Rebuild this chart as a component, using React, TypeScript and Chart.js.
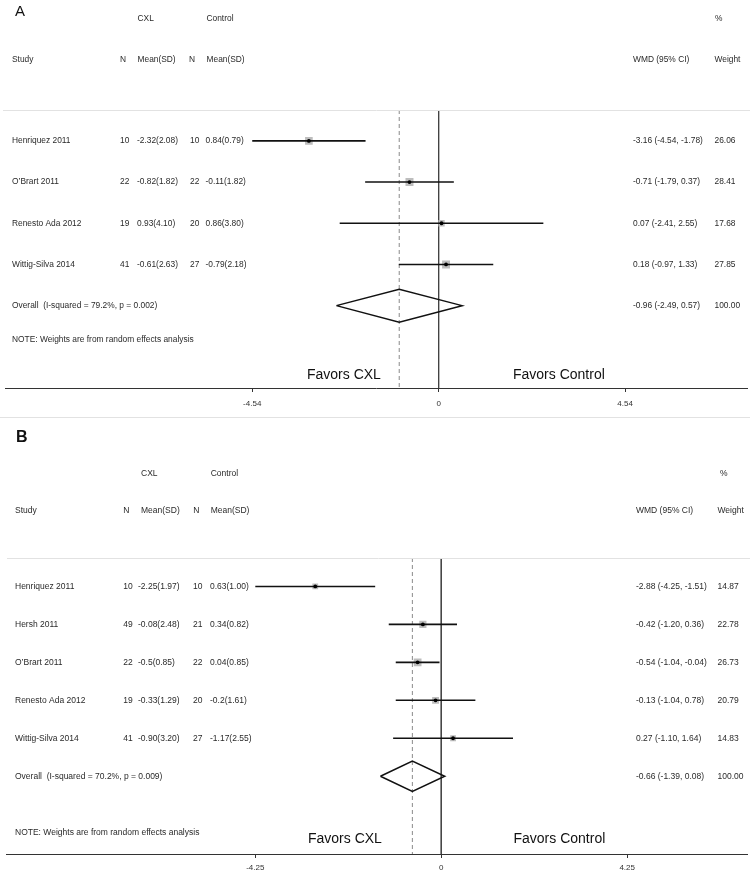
import React, { useEffect, useRef } from "react";
import { Chart, registerables } from "chart.js";

Chart.register(...registerables);

// ---------- Panel A data ----------
const studiesA = ["Henriquez 2011", "O\u2019Brart 2011", "Renesto Ada 2012", "Wittig-Silva 2014"];
const nCxlA = [10, 22, 19, 41];
const meanCxlA = ["-2.32(2.08)", "-0.82(1.82)", "0.93(4.10)", "-0.61(2.63)"];
const nCtlA = [10, 22, 20, 27];
const meanCtlA = ["0.84(0.79)", "-0.11(1.82)", "0.86(3.80)", "-0.79(2.18)"];
const wmdA = [-3.16, -0.71, 0.07, 0.18];
const loA = [-4.54, -1.79, -2.41, -0.97];
const hiA = [-1.78, 0.37, 2.55, 1.33];
const weightA = [26.06, 28.41, 17.68, 27.85];
const overallA = [-0.96, -2.49, 0.57]; // estimate, lower, upper
const overallLabelA = "Overall  (I-squared = 79.2%, p = 0.002)";
const ticksA = [-4.54, 0, 4.54];
const axisRangeA = [-10.545, 7.518];

// ---------- Panel B data ----------
const studiesB = ["Henriquez 2011", "Hersh 2011", "O\u2019Brart 2011", "Renesto Ada 2012", "Wittig-Silva 2014"];
const nCxlB = [10, 49, 22, 19, 41];
const meanCxlB = ["-2.25(1.97)", "-0.08(2.48)", "-0.5(0.85)", "-0.33(1.29)", "-0.90(3.20)"];
const nCtlB = [10, 21, 22, 20, 27];
const meanCtlB = ["0.63(1.00)", "0.34(0.82)", "0.04(0.85)", "-0.2(1.61)", "-1.17(2.55)"];
const wmdB = [-2.88, -0.42, -0.54, -0.13, 0.27];
const loB = [-4.25, -1.2, -1.04, -1.04, -1.1];
const hiB = [-1.51, 0.36, -0.04, 0.78, 1.64];
const weightB = [14.87, 22.78, 26.73, 20.79, 14.83];
const overallB = [-0.66, -1.39, 0.08];
const overallLabelB = "Overall  (I-squared = 70.2%, p = 0.009)";
const ticksB = [-4.25, 0, 4.25];
const axisRangeB = [-9.948, 7.0];

const noteText = "NOTE: Weights are from random effects analysis";
const FONT = '"Liberation Sans", Arial, Helvetica, sans-serif';

type Layout = {
  height: number;
  padTop: number;
  padLeft: number;
  padRight: number;
  axisHeight: number;
  tickPad: number;
  rowRange: [number, number];
  fontSize: number;
  letter: string;
  letterFont: string;
  letterX: number;
  letterY: number;
  groupY: number;
  headY: number;
  cols: { study: number; nCxl: number; meanCxl: number; nCtl: number; meanCtl: number; wmd: number; weight: number; hCxl: number; hCtl: number; hN1: number; hN2: number; pct: number };
  noteY: number;
  favorsY: number;
  favorsCxlX: number;
  favorsCtlX: number;
  sepLines: { y: number; x0: number; x1: number }[];
};

type Panel = {
  studies: string[];
  nCxl: number[];
  meanCxl: string[];
  nCtl: number[];
  meanCtl: string[];
  wmd: number[];
  lo: number[];
  hi: number[];
  weight: number[];
  overall: number[];
  overallLabel: string;
  ticks: number[];
  axisRange: number[];
  layout: Layout;
};

const panelA: Panel = {
  studies: studiesA, nCxl: nCxlA, meanCxl: meanCxlA, nCtl: nCtlA, meanCtl: meanCtlA,
  wmd: wmdA, lo: loA, hi: hiA, weight: weightA, overall: overallA, overallLabel: overallLabelA,
  ticks: ticksA, axisRange: axisRangeA,
  layout: {
    height: 420, padTop: 110, padLeft: 4, padRight: 3, axisHeight: 32, tickPad: 7,
    rowRange: [0.25, 7.0], fontSize: 8.4,
    letter: "A", letterFont: `15px ${FONT}`, letterX: 15, letterY: 12,
    groupY: 18.5, headY: 59.5,
    cols: { study: 12, nCxl: 120, meanCxl: 137, nCtl: 190, meanCtl: 205.5, wmd: 633, weight: 714.5, hCxl: 137.5, hCtl: 206.5, hN1: 120, hN2: 189, pct: 715 },
    noteY: 340, favorsY: 375, favorsCxlX: 307, favorsCtlX: 513,
    sepLines: [{ y: 110.5, x0: 3, x1: 750 }, { y: 417.5, x0: 0, x1: 750 }],
  },
};

const panelB: Panel = {
  studies: studiesB, nCxl: nCxlB, meanCxl: meanCxlB, nCtl: nCtlB, meanCtl: meanCtlB,
  wmd: wmdB, lo: loB, hi: hiB, weight: weightB, overall: overallB, overallLabel: overallLabelB,
  ticks: ticksB, axisRange: axisRangeB,
  layout: {
    height: 454, padTop: 138, padLeft: 6, padRight: 3, axisHeight: 20, tickPad: 5,
    rowRange: [0.25, 8.05], fontSize: 8.5,
    letter: "B", letterFont: `bold 16px ${FONT}`, letterX: 16, letterY: 18,
    groupY: 53.5, headY: 91,
    cols: { study: 15, nCxl: 123.3, meanCxl: 138, nCtl: 193, meanCtl: 210, wmd: 636, weight: 717.5, hCxl: 141, hCtl: 210.7, hN1: 123.3, hN2: 193.3, pct: 720 },
    noteY: 413, favorsY: 419, favorsCxlX: 308, favorsCtlX: 513.5,
    sepLines: [{ y: 138.5, x0: 7, x1: 750 }],
  },
};

function makeConfig(p: Panel): any {
  const L = p.layout;
  const rows = p.studies.map((_, i) => i + 1);
  const oRow = p.studies.length + 1;
  const [est, olo, ohi] = p.overall;
  const datasets: any[] = [];

  // black centre dots (on top)
  datasets.push({
    type: "scatter",
    data: p.wmd.map((v, i) => ({ x: v, y: rows[i] })),
    pointStyle: "circle",
    pointRadius: 1.9,
    backgroundColor: "#000",
    borderWidth: 0,
  });
  // confidence interval lines
  p.studies.forEach((_, i) => {
    datasets.push({
      type: "line",
      data: [{ x: p.lo[i], y: rows[i] }, { x: p.hi[i], y: rows[i] }],
      borderColor: "#111",
      borderWidth: 1.6,
      pointRadius: 0,
    });
  });
  // weight boxes
  datasets.push({
    type: "scatter",
    data: p.wmd.map((v, i) => ({ x: v, y: rows[i] })),
    pointStyle: "rect",
    pointRadius: p.weight.map((w) => (1.5 * Math.sqrt(w)) / Math.SQRT2),
    backgroundColor: "#bdbdbd",
    borderWidth: 0,
  });
  // overall diamond
  datasets.push({
    type: "line",
    data: [
      { x: olo, y: oRow },
      { x: est, y: oRow - 0.4 },
      { x: ohi, y: oRow },
      { x: est, y: oRow + 0.4 },
      { x: olo, y: oRow },
    ],
    borderColor: "#111",
    borderWidth: 1.5,
    pointRadius: 0,
    fill: false,
    tension: 0,
  });
  // dashed overall line
  datasets.push({
    type: "line",
    data: [{ x: est, y: L.rowRange[0] }, { x: est, y: L.rowRange[1] }],
    borderColor: "#8a8a8a",
    borderWidth: 1,
    borderDash: [4, 3],
    pointRadius: 0,
  });
  // null line
  datasets.push({
    type: "line",
    data: [{ x: 0, y: L.rowRange[0] }, { x: 0, y: L.rowRange[1] }],
    borderColor: "#444",
    borderWidth: 1,
    pointRadius: 0,
  });

  const textPlugin = {
    id: "forestText",
    afterDraw(chart: any) {
      const ctx = chart.ctx as CanvasRenderingContext2D;
      const ys = chart.scales.y;
      const C = L.cols;
      const small = `${L.fontSize}px ${FONT}`;
      ctx.save();
      ctx.textBaseline = "middle";
      ctx.textAlign = "left";
      // separators
      ctx.strokeStyle = "#e2e2e2";
      ctx.lineWidth = 1;
      L.sepLines.forEach((s) => {
        ctx.beginPath();
        ctx.moveTo(s.x0, s.y);
        ctx.lineTo(s.x1, s.y);
        ctx.stroke();
      });
      // panel letter
      ctx.fillStyle = "#111";
      ctx.font = L.letterFont;
      ctx.fillText(L.letter, L.letterX, L.letterY);
      // headers
      ctx.fillStyle = "#2a2a2a";
      ctx.font = small;
      ctx.fillText("CXL", C.hCxl, L.groupY);
      ctx.fillText("Control", C.hCtl, L.groupY);
      ctx.fillText("%", C.pct, L.groupY);
      ctx.fillText("Study", C.study, L.headY);
      ctx.fillText("N", C.hN1, L.headY);
      ctx.fillText("Mean(SD)", C.hCxl, L.headY);
      ctx.fillText("N", C.hN2, L.headY);
      ctx.fillText("Mean(SD)", C.hCtl, L.headY);
      ctx.fillText("WMD (95% CI)", C.wmd, L.headY);
      ctx.fillText("Weight", C.weight, L.headY);
      // study rows
      p.studies.forEach((s, i) => {
        const y = ys.getPixelForValue(i + 1);
        ctx.fillText(s, C.study, y);
        ctx.fillText(String(p.nCxl[i]), C.nCxl, y);
        ctx.fillText(p.meanCxl[i], C.meanCxl, y);
        ctx.fillText(String(p.nCtl[i]), C.nCtl, y);
        ctx.fillText(p.meanCtl[i], C.meanCtl, y);
        ctx.fillText(`${p.wmd[i].toFixed(2)} (${p.lo[i].toFixed(2)}, ${p.hi[i].toFixed(2)})`, C.wmd, y);
        ctx.fillText(p.weight[i].toFixed(2), C.weight, y);
      });
      const oy = ys.getPixelForValue(oRow);
      ctx.fillText(p.overallLabel, C.study, oy);
      ctx.fillText(`${est.toFixed(2)} (${olo.toFixed(2)}, ${ohi.toFixed(2)})`, C.wmd, oy);
      ctx.fillText((100).toFixed(2), C.weight, oy);
      ctx.fillText(noteText, C.study, L.noteY);
      // favours labels
      ctx.fillStyle = "#111";
      ctx.font = `14px ${FONT}`;
      ctx.fillText("Favors CXL", L.favorsCxlX, L.favorsY);
      ctx.fillText("Favors Control", L.favorsCtlX, L.favorsY);
      ctx.restore();
    },
  };

  return {
    type: "scatter",
    data: { datasets },
    plugins: [textPlugin],
    options: {
      animation: false,
      responsive: false,
      events: [],
      layout: { padding: { top: L.padTop, left: L.padLeft, right: L.padRight, bottom: 0 } },
      plugins: { legend: { display: false }, tooltip: { enabled: false } },
      scales: {
        x: {
          type: "linear",
          min: p.axisRange[0],
          max: p.axisRange[1],
          afterBuildTicks: (s: any) => {
            s.ticks = p.ticks.map((v) => ({ value: v }));
          },
          afterFit: (s: any) => {
            s.height = L.axisHeight;
          },
          ticks: {
            autoSkip: false,
            maxRotation: 0,
            padding: L.tickPad,
            color: "#333",
            font: { family: FONT, size: 8 },
            callback: (v: any) => String(v),
          },
          grid: { display: true, drawOnChartArea: false, drawTicks: true, tickLength: 4, color: "#333" },
          border: { display: true, color: "#333", width: 1 },
        },
        y: {
          type: "linear",
          reverse: true,
          display: false,
          min: L.rowRange[0],
          max: L.rowRange[1],
        },
      },
    },
  };
}

function ForestPanel({ panel, top }: { panel: Panel; top: number }) {
  const ref = useRef<HTMLCanvasElement | null>(null);
  useEffect(() => {
    if (!ref.current) return;
    const chart = new Chart(ref.current, makeConfig(panel));
    return () => chart.destroy();
  }, [panel]);
  return (
    <canvas
      ref={ref}
      width={753}
      height={panel.layout.height}
      style={{ position: "absolute", left: 0, top, width: 753, height: panel.layout.height, display: "block" }}
    />
  );
}

export default function App() {
  return (
    <div style={{ position: "absolute", left: 0, top: 0, width: 753, height: 874, background: "#fff", overflow: "hidden" }}>
      <ForestPanel panel={panelA} top={0} />
      <ForestPanel panel={panelB} top={420} />
    </div>
  );
}
